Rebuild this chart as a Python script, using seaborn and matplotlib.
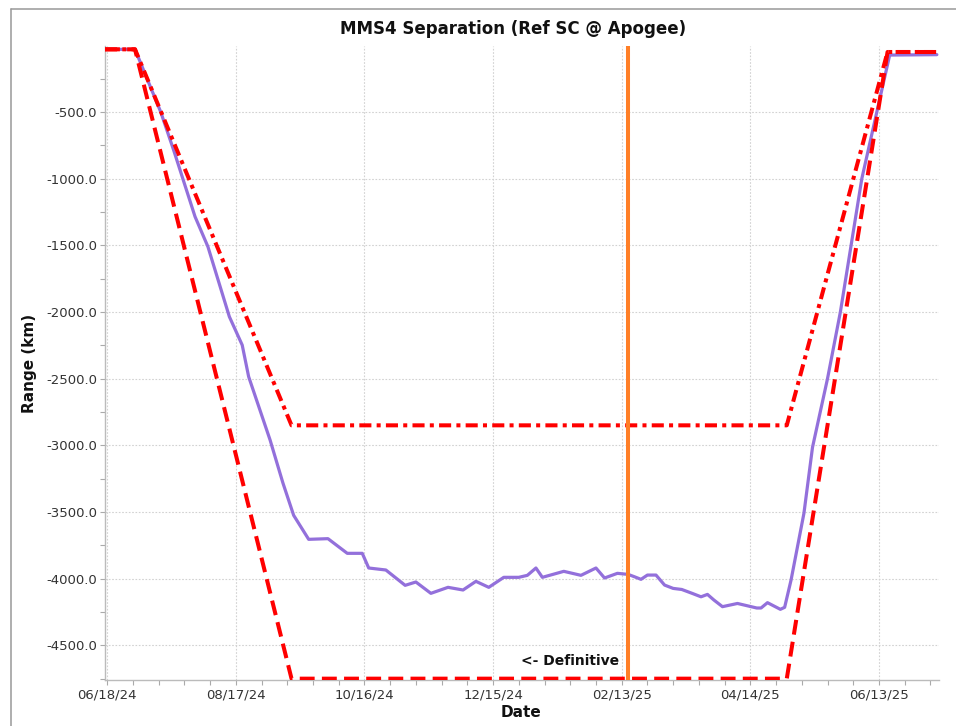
import matplotlib
matplotlib.use("Agg")
import matplotlib.pyplot as plt
import matplotlib.dates as mdates
import matplotlib.ticker as mticker
from matplotlib.lines import Line2D
import pandas as pd
import seaborn as sns

# ---------------- data ----------------
actual_dates = [
    "2024-06-17", "2024-07-01", "2024-07-13", "2024-07-19", "2024-07-29", "2024-08-04",
    "2024-08-14", "2024-08-20", "2024-08-23", "2024-09-02", "2024-09-08", "2024-09-13",
    "2024-09-20", "2024-09-29", "2024-10-08", "2024-10-15", "2024-10-18", "2024-10-26",
    "2024-11-04", "2024-11-09", "2024-11-16", "2024-11-24", "2024-12-01", "2024-12-07",
    "2024-12-13", "2024-12-20", "2024-12-27", "2024-12-31", "2025-01-04", "2025-01-07",
    "2025-01-17", "2025-01-25", "2025-02-01", "2025-02-05", "2025-02-11", "2025-02-16",
    "2025-02-19", "2025-02-22", "2025-02-25", "2025-03-01", "2025-03-05", "2025-03-09",
    "2025-03-13", "2025-03-18", "2025-03-22", "2025-03-25", "2025-03-28", "2025-04-01",
    "2025-04-08", "2025-04-17", "2025-04-19", "2025-04-22", "2025-04-28", "2025-04-30",
    "2025-05-03", "2025-05-09", "2025-05-13", "2025-05-20", "2025-05-26", "2025-05-31",
    "2025-06-05", "2025-06-12", "2025-06-18", "2025-07-10",
]
actual_km = [
    -30, -30, -500, -785, -1285, -1510,
    -2035, -2248, -2485, -2960, -3283, -3525,
    -3705, -3700, -3810, -3810, -3920, -3935,
    -4050, -4025, -4110, -4065, -4085, -4020,
    -4065, -3990, -3990, -3975, -3920, -3990,
    -3945, -3975, -3920, -3995, -3960, -3968,
    -3986, -4005, -3973, -3973, -4048, -4073,
    -4081, -4111, -4136, -4118, -4160, -4210,
    -4186, -4220, -4220, -4180, -4230, -4215,
    -4010, -3510, -3015, -2500, -2000, -1500,
    -1000, -500, -73, -70,
]

limit_dates = ["2024-06-17", "2024-07-01", "2024-09-12", "2025-05-01", "2025-06-17", "2025-07-10"]
lower_limit_km = [-30, -30, -4750, -4750, -50, -50]
upper_limit_km = [-30, -30, -2850, -2850, -50, -50]

definitive_date = "2025-02-16"
definitive_label = "<- Definitive"
definitive_label_km = -4615

x_tick_dates = ["2024-06-18", "2024-08-17", "2024-10-16", "2024-12-15",
                "2025-02-13", "2025-04-14", "2025-06-13"]
x_limits = ["2024-06-17", "2025-07-11"]
y_ticks = [-4500, -4000, -3500, -3000, -2500, -2000, -1500, -1000, -500]
y_limits = [-4760, -5]

title = "MMS4 Separation (Ref SC @ Apogee)"
x_label = "Date"
y_label = "Range (km)"

# ---------------- frames ----------------
actual_df = pd.DataFrame({"date": pd.to_datetime(actual_dates), "km": actual_km})
limit_df = pd.DataFrame({"date": pd.to_datetime(limit_dates),
                         "lower": lower_limit_km, "upper": upper_limit_km})

# ---------------- figure ----------------
sns.set_style("white")
plt.rcParams["font.family"] = ["DejaVu Sans"]

fig = plt.figure(figsize=(9.56, 7.26), dpi=100)
ax = fig.add_axes([105 / 956, 1 - 680 / 726, 834 / 956, 634 / 726])

sns.lineplot(data=actual_df, x="date", y="km", ax=ax, color="#9370DB",
             linewidth=2.3, sort=False, zorder=3)
sns.lineplot(data=limit_df, x="date", y="lower", ax=ax, color="#FF0000",
             linewidth=2.9, linestyle=(0, (3.7, 1.8)), sort=False, zorder=4)
sns.lineplot(data=limit_df, x="date", y="upper", ax=ax, color="#FF0000",
             linewidth=2.9, linestyle=(0, (3.0, 1.3, 1.0, 1.3)), sort=False, zorder=4)

def_dt = pd.Timestamp(definitive_date)
ax.axvline(def_dt, color="#FF7F27", linewidth=2.9, zorder=5)
ax.annotate(definitive_label, xy=(def_dt, definitive_label_km), xytext=(-9, 0),
            textcoords="offset pixels", ha="right", va="center",
            fontsize=10, fontweight="bold", color="#111111", zorder=6)

# ticks
ax.set_xticks(pd.to_datetime(x_tick_dates))
ax.xaxis.set_major_formatter(mdates.DateFormatter("%m/%d/%y"))
minor_x = pd.date_range(x_tick_dates[0], x_limits[1], freq="12D")
ax.set_xticks(minor_x, minor=True)
ax.set_yticks(y_ticks)
ax.yaxis.set_minor_locator(mticker.MultipleLocator(250))
ax.yaxis.set_major_formatter(mticker.FormatStrFormatter("%.1f"))

# limits (after ticks so they are not expanded)
ax.set_xlim(pd.Timestamp(x_limits[0]), pd.Timestamp(x_limits[1]))
ax.set_ylim(*y_limits)

ax.tick_params(axis="both", which="both", direction="out", length=3.4,
               width=0.8, color="#aaaaaa", labelsize=9.5, labelcolor="#333333",
               left=True, bottom=True)
ax.tick_params(axis="y", which="both", pad=2.2)
ax.tick_params(axis="x", which="both", pad=2.5)

ax.grid(True, which="major", linestyle=(0, (1.5, 1.5)), color="#d2d2d2", linewidth=0.8)

for side in ["top", "right"]:
    ax.spines[side].set_visible(False)
for side in ["left", "bottom"]:
    ax.spines[side].set_color("#bbbbbb")
    ax.spines[side].set_linewidth(1.0)

ax.set_xlabel(x_label, fontsize=11, fontweight="bold", color="#111111")
ax.set_ylabel(y_label, fontsize=11, fontweight="bold", color="#111111")
ax.xaxis.set_label_coords(0.499, -0.039)
ax.yaxis.set_label_coords(-0.0815, 0.5)

fig.text(513 / 956, 1 - 34.3 / 726, title, ha="center", va="baseline",
         fontsize=12, fontweight="bold", color="#111111")

# outer frame lines (top and left edges of a panel border)
fx = 10.5 / 956
fy = 1 - 9.3 / 726
fig.add_artist(Line2D([fx, 1.0], [fy, fy], transform=fig.transFigure,
                      color="#999999", linewidth=1.1))
fig.add_artist(Line2D([fx, fx], [0.0, fy], transform=fig.transFigure,
                      color="#999999", linewidth=1.1))

fig.savefig("out.png", dpi=100)
